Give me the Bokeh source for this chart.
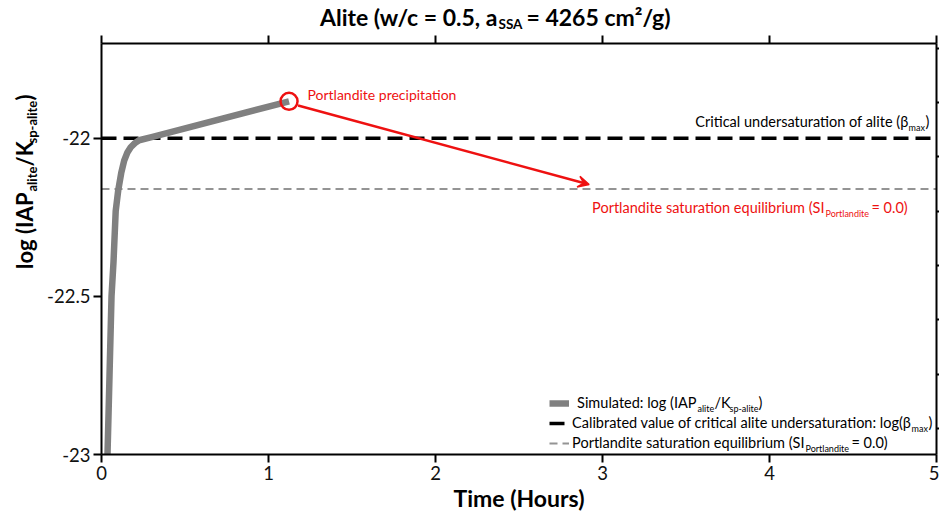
import math

from bokeh.embed import file_html
from bokeh.layouts import column, row
from bokeh.models import (Arrow, FixedTicker, Label, Legend, LegendItem,
                          LinearAxis, Range1d, VeeHead)
from bokeh.plotting import figure
from bokeh.resources import INLINE

# ---------------------------------------------------------------- data
# simulated log(IAP_alite / K_sp-alite) against time (hours)
time_h = [0.032, 0.036, 0.048, 0.060, 0.072, 0.085, 0.100, 0.118,
          0.136, 0.155, 0.175, 0.200, 0.225, 0.300, 1.123]
log_iap = [-23.05, -23.00, -22.75, -22.50, -22.39, -22.23, -22.165, -22.11,
           -22.07, -22.045, -22.028, -22.015, -22.006, -21.996, -21.883]

log_beta_max = -22.0           # calibrated critical undersaturation of alite
si_portlandite_level = -22.16  # portlandite saturation equilibrium

precip_time = 1.123            # onset of portlandite precipitation
precip_value = -21.883
arrow_start = (1.177, -21.896)
arrow_end = (2.92, -22.146)

x_ticks = [0, 1, 2, 3, 4, 5]
y_ticks = [-23, -22.5, -22]
y_tick_labels = ["-23", "-22.5", "-22"]
right_ticks = [0, 1, 2, 3, 4, 5, 6, 7]

X_MIN, X_MAX = 0, 5
Y_MIN, Y_MAX = -23.0, -21.7

# ---------------------------------------------------------------- layout
FONT = "Lato"
W, H = 939, 519
TITLE_H = 35        # strip holding the title
YLAB_W = 44         # strip holding the rotated y title
FL, FR, FT, FB = 99, 936, 43, 454   # plot frame on the page (px)
INK = "#111111"
RED = "#ee1111"
BASE_SHIFT = 0.38   # label anchor sits this many em above the drawn baseline


def strip(width, height):
    f = figure(width=width, height=height, x_range=Range1d(0, 1),
               y_range=Range1d(0, 1), output_backend="svg", title=None,
               toolbar_location=None, x_axis_location=None,
               y_axis_location=None, min_border=0)
    f.outline_line_color = None
    f.xgrid.visible = False
    f.ygrid.visible = False
    return f


title_fig = strip(W, TITLE_H)
ylab_fig = strip(YLAB_W, H - TITLE_H)

p = figure(width=W - YLAB_W, height=H - TITLE_H, title=None,
           x_range=Range1d(X_MIN, X_MAX), y_range=Range1d(Y_MIN, Y_MAX),
           output_backend="svg", toolbar_location=None,
           x_axis_location=None, y_axis_location=None,
           min_border_left=FL - YLAB_W, min_border_right=W - FR,
           min_border_top=FT - TITLE_H, min_border_bottom=H - FB)
p.outline_line_color = None
p.xgrid.visible = False
p.ygrid.visible = False
p.extra_y_ranges = {"right": Range1d(-0.48, 7.09)}


def style_axis(ax):
    ax.axis_line_color = "black"
    ax.axis_line_width = 2
    ax.major_tick_line_color = "black"
    ax.major_tick_line_width = 2
    ax.major_tick_in = 0
    ax.minor_tick_in = 0
    ax.minor_tick_out = 0
    ax.major_label_text_font = FONT
    ax.major_label_text_font_size = "18.5px"
    ax.major_label_text_color = INK


xb = LinearAxis(ticker=FixedTicker(ticks=x_ticks), axis_label="Time (Hours)")
style_axis(xb)
xb.major_tick_out = 8
xb.major_label_standoff = 3
xb.axis_label_standoff = 1
xb.axis_label_text_font = FONT
xb.axis_label_text_font_size = "23px"
xb.axis_label_text_font_style = "bold"
xb.axis_label_text_color = "black"
p.add_layout(xb, "below")

xt = LinearAxis(ticker=FixedTicker(ticks=x_ticks),
                major_label_overrides={t: "" for t in x_ticks})
style_axis(xt)
xt.major_tick_out = 8
xt.major_label_standoff = 0
xt.major_label_text_font_size = "0px"
p.add_layout(xt, "above")

yl = LinearAxis(ticker=FixedTicker(ticks=y_ticks),
                major_label_overrides=dict(zip(y_ticks, y_tick_labels)))
style_axis(yl)
yl.major_tick_out = 8
yl.major_label_standoff = 3
p.add_layout(yl, "left")

yr = LinearAxis(y_range_name="right", ticker=FixedTicker(ticks=right_ticks),
                major_label_overrides={t: "" for t in right_ticks})
style_axis(yr)
yr.major_tick_out = 3
yr.major_label_standoff = 0
yr.major_label_text_font_size = "0px"
p.add_layout(yr, "right")

# ---------------------------------------------------------------- marks
beta_line = p.line([X_MIN, X_MAX], [log_beta_max, log_beta_max],
                   line_color="black", line_width=3.5, line_dash="15 7")
si_line = p.line([X_MIN, X_MAX], [si_portlandite_level, si_portlandite_level],
                 line_color="#949494", line_width=2, line_dash="8 5")
curve = p.line(time_h, log_iap, line_color="#808080", line_width=6.5,
               line_join="round")

p.scatter([precip_time], [precip_value], marker="circle", size=17,
          fill_color=None, line_color=RED, line_width=2.5)
p.add_layout(Arrow(end=VeeHead(size=11, fill_color=RED, line_color=RED,
                               line_width=1.5),
                   x_start=arrow_start[0], y_start=arrow_start[1],
                   x_end=arrow_end[0], y_end=arrow_end[1],
                   line_color=RED, line_width=2.5))

legend = Legend(items=[LegendItem(label="", renderers=[curve]),
                       LegendItem(label="", renderers=[beta_line]),
                       LegendItem(label="", renderers=[si_line])],
                location=(547 - FL, FB - 453), orientation="vertical",
                padding=0, margin=0, spacing=0, glyph_width=20,
                glyph_height=20, label_height=20, label_width=0,
                label_standoff=0, border_line_color=None,
                background_fill_alpha=0)
p.add_layout(legend)


# ---------------------------------------------------------------- texts
def put(fig, origin, px, py, s, size, align="left", bold=False,
        color="black", angle=0.0):
    """Place a text run so that its baseline passes through page pixel (px, py).

    origin is the page position of the figure frame's bottom-left corner.
    Rotated runs (angle = pi/2) have their baseline on the vertical px.
    """
    ox, oy = origin
    shift = BASE_SHIFT * size
    if angle:
        px -= shift
    else:
        py -= shift
    fig.add_layout(Label(x=px - ox, y=oy - py, x_units="screen",
                         y_units="screen", text=s, text_font=FONT,
                         text_font_size=f"{size}px",
                         text_font_style="bold" if bold else "normal",
                         text_color=color, text_align=align,
                         text_baseline="alphabetic", angle=angle))


T0 = (0, TITLE_H)
Y0 = (0, H)
P0 = (FL, FB)

# title
put(title_fig, T0, 497, 25, "Alite (w/c = 0.5, a", 23, "right", True)
put(title_fig, T0, 498, 29, "SSA", 13.5, "left", True)
put(title_fig, T0, 526, 25, " = 4265 cm²/g)", 23, "left", True)

# y axis title, written bottom to top
up = math.pi / 2
put(ylab_fig, Y0, 32, 257, "log (IAP", 22, "right", True, angle=up)
put(ylab_fig, Y0, 36, 256, "alite", 13, "left", True, angle=up)
put(ylab_fig, Y0, 32, 231, "/K", 22, "left", True, angle=up)
put(ylab_fig, Y0, 36, 208, "sp-alite", 13, "left", True, angle=up)
put(ylab_fig, Y0, 32, 165, ")", 22, "left", True, angle=up)

# annotations in the plot area
put(p, P0, 305, 99, "Portlandite precipitation", 14, "left", False, RED)

put(p, P0, 906, 127, "Critical undersaturation of alite (β", 14.5, "right")
put(p, P0, 906, 130, "max", 9, "left")
put(p, P0, 923, 127, ")", 14.5, "left")

put(p, P0, 822, 213, "Portlandite saturation equilibrium (SI", 14.5, "right",
    False, RED)
put(p, P0, 823, 216, "Portlandite", 9, "left", False, RED)
put(p, P0, 869, 213, " = 0.0)", 14.5, "left", False, RED)

# legend entries
put(p, P0, 694, 408, "Simulated: log (IAP", 14.5, "right")
put(p, P0, 695, 411, "alite", 9, "left")
put(p, P0, 712, 408, "/K", 14.5, "left")
put(p, P0, 727, 411, "sp-alite", 9, "left")
put(p, P0, 756, 408, ")", 14.5, "left")

put(p, P0, 909, 428,
    "Calibrated value of critical alite undersaturation: log(β", 14.5, "right")
put(p, P0, 909, 431, "max", 9, "left")
put(p, P0, 926, 428, ")", 14.5, "left")

put(p, P0, 802, 448, "Portlandite saturation equilibrium (SI", 14.5, "right")
put(p, P0, 803, 451, "Portlandite", 9, "left")
put(p, P0, 849, 448, " = 0.0)", 14.5, "left")

layout = column(title_fig, row(ylab_fig, p))
open("out.html", "w").write(file_html(layout, INLINE))
